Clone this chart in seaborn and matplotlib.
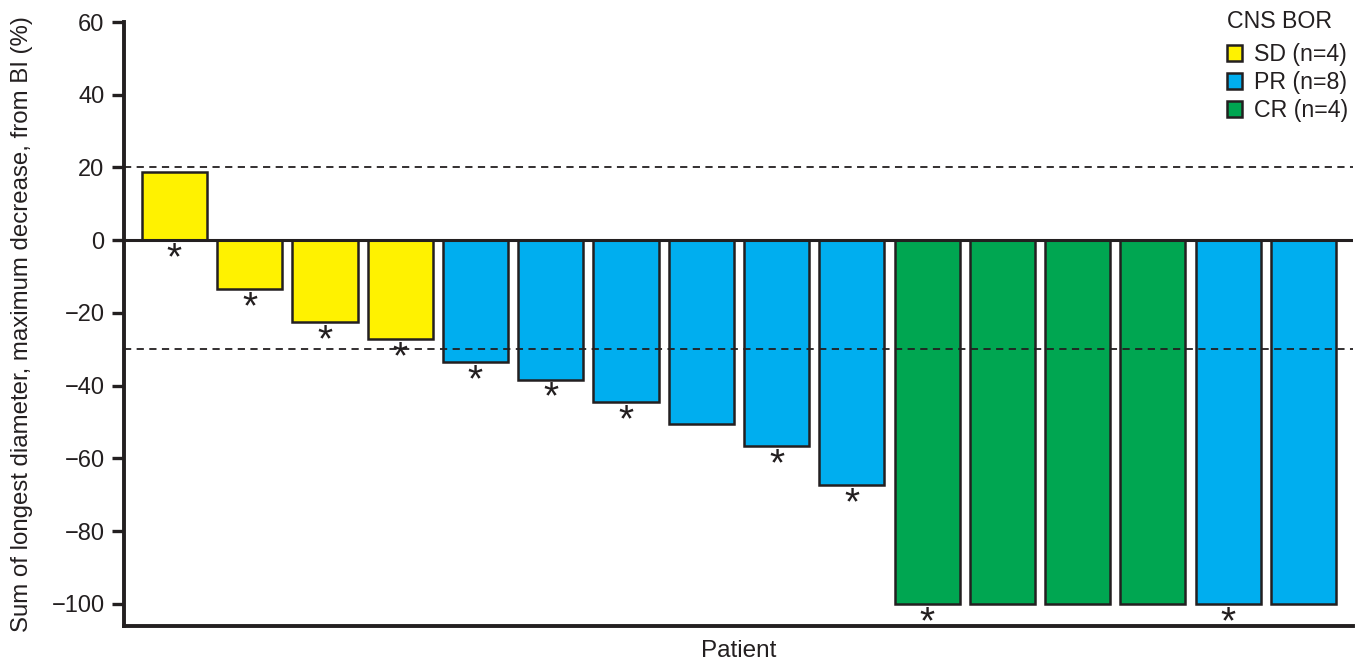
import matplotlib
matplotlib.use("Agg")
import matplotlib.pyplot as plt
import seaborn as sns
import pandas as pd

patients = [str(i) for i in range(1, 17)]
values = [18.7, -13.4, -22.6, -27.1, -33.5, -38.3, -44.5, -50.4, -56.7, -67.4,
          -100, -100, -100, -100, -100, -100]
response = ["SD", "SD", "SD", "SD", "PR", "PR", "PR", "PR", "PR", "PR",
            "CR", "CR", "CR", "CR", "PR", "PR"]
asterisk = [1, 1, 1, 1, 1, 1, 1, 0, 1, 1, 1, 0, 0, 0, 1, 0]
categories = ["SD", "PR", "CR"]
legend_labels = ["SD (n=4)", "PR (n=8)", "CR (n=4)"]
legend_title = "CNS BOR"
colors = {"SD": "#FFF200", "PR": "#00AEEF", "CR": "#00A651"}
thresholds = [20, -30]
yticks = [60, 40, 20, 0, -20, -40, -60, -80, -100]

df = pd.DataFrame({"Patient": patients, "Change": values, "BOR": response})

sns.set_theme(style="white")
plt.rcParams["font.family"] = ["Liberation Sans", "DejaVu Sans"]

ink = "#231f20"
fig = plt.figure(figsize=(13.66, 6.67), dpi=100)
ax = fig.add_axes([0.0908, 0.0619, 0.8997, 0.9051])

sns.barplot(data=df, x="Patient", y="Change", hue="BOR", hue_order=categories,
            palette=colors, dodge=False, width=0.865, edgecolor=ink,
            linewidth=1.8, saturation=1, ax=ax, order=patients, legend=True)

for t in thresholds:
    ax.axhline(t, color=ink, linestyle=(0, (4, 3)), linewidth=1.3, zorder=5)
ax.axhline(0, color=ink, linewidth=2.2, zorder=4)

for i, (v, a) in enumerate(zip(values, asterisk)):
    if a:
        ax.text(i, min(v, 0) - 8.0, "*", ha="center", va="baseline",
                fontsize=28, color=ink, zorder=6)

ax.set_xlim(-0.67, 15.66)
ax.set_ylim(-106, 60)
ax.set_yticks(yticks)
ax.set_yticklabels([f"{t}".replace("-", "\u2212") for t in yticks])
ax.set_xticks([])
ax.tick_params(axis="y", which="both", direction="out", length=9, width=2.4,
               labelsize=17, color=ink, labelcolor=ink, pad=5, left=True)
for s in ["top", "right"]:
    ax.spines[s].set_visible(False)
for s in ["left", "bottom"]:
    ax.spines[s].set_linewidth(2.8)
    ax.spines[s].set_color(ink)

ax.set_xlabel("Patient", fontsize=17.5, color=ink, labelpad=10)
ax.set_ylabel("Sum of longest diameter, maximum decrease, from BI (%)", fontsize=17.3,
              color=ink, labelpad=13)

handles, _ = ax.get_legend_handles_labels()
leg = ax.legend(handles, legend_labels, loc="upper left",
                bbox_to_anchor=(1227 / 1366, 1 - 43 / 667),
                bbox_transform=fig.transFigure, frameon=False, fontsize=16.7,
                handlelength=0.65, handleheight=0.65, borderpad=0, borderaxespad=0,
                handletextpad=0.5, labelspacing=0.22)
for h in leg.legend_handles:
    h.set_edgecolor(ink)
    h.set_linewidth(1.8)
for t in leg.get_texts():
    t.set_color(ink)
fig.text(1227 / 1366, 1 - 10 / 667, legend_title, ha="left", va="top",
         fontsize=16.7, color=ink)

fig.savefig("out.png", dpi=100)
